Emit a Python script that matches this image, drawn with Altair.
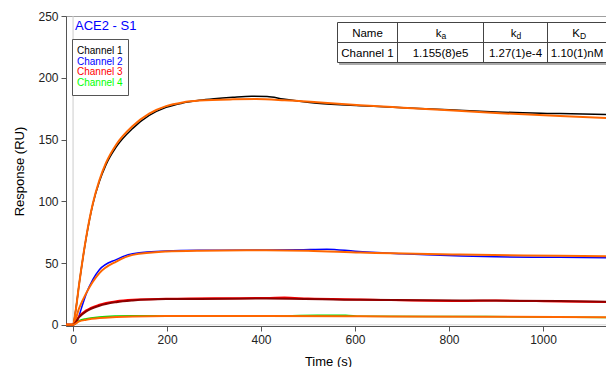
import altair as alt
import pandas as pd

FONT = "Liberation Sans"

# ---------------- data ----------------
# Channel 1 measured (black)
t_ch1 = [-15, 0, 5, 13, 28, 42, 56, 70, 92, 127, 162, 198, 233, 269, 300, 340, 380, 413, 447, 519, 611, 660, 800, 900, 1036, 1151]
v_ch1 = [0, 0, 10, 33, 70.5, 97.5, 116, 129.5, 144, 159, 169.5, 176, 179.5, 181.7, 183, 184.2, 185, 184.8, 182.8, 179.4, 177.4, 176.6, 174, 172.3, 171, 170]
# Channel 1 fit (orange)
t_fit1 = [-15, 0, 5, 13, 28, 42, 56, 70, 92, 127, 162, 198, 233, 269, 340, 390, 450, 519, 611, 700, 800, 900, 1036, 1151]
v_fit1 = [0, 0, 10, 33, 71, 98, 117, 131, 146, 161, 171, 177, 180, 181.5, 182.5, 182.7, 181.8, 180.2, 177.8, 175.8, 173.6, 171.5, 169, 167.2]
# Channel 2 measured (blue)
t_ch2 = [-15, 0, 8, 20, 28, 42, 56, 92, 127, 198, 269, 411, 480, 540, 600, 700, 752, 900, 1036, 1151]
v_ch2 = [0, 0, 2.7, 16, 25, 36.5, 44.5, 52.8, 57.6, 59.8, 60.3, 60.5, 60.7, 61.2, 59.5, 57.5, 56.6, 55, 54.6, 54.2]
# Channel 2 fit (orange)
t_fit2 = [-15, 0, 13, 28, 56, 92, 127, 198, 269, 411, 500, 611, 823, 1036, 1151]
v_fit2 = [0, 0, 13.5, 25.6, 41.8, 51.2, 56.6, 59.3, 60, 60.4, 60, 58.5, 56.9, 55.8, 55.3]
# Channel 3 measured (red)
t_ch3 = [-15, 0, 13, 28, 56, 92, 127, 198, 300, 411, 450, 500, 611, 823, 900, 1036, 1151]
v_ch3 = [0, 0, 6.8, 11.6, 16.2, 19, 20.2, 21, 21.5, 21.6, 22, 21.2, 20.5, 19.3, 19.6, 18.8, 18.3]
# Channel 3 fit (dark red)
t_fit3 = [-15, 0, 13, 28, 56, 92, 127, 198, 269, 411, 611, 823, 1036, 1151]
v_fit3 = [0, 0, 6.2, 10.8, 15.4, 18.3, 19.7, 20.8, 20.9, 21.3, 20.2, 19.7, 19.2, 18.6]
# Channel 4 measured (green)
t_ch4 = [-15, 0, 13, 28, 56, 92, 127, 149, 198, 411, 520, 580, 611, 880, 1151]
v_ch4 = [0, 0, 3.3, 4.9, 6.3, 7.1, 7.4, 7.4, 7.1, 7.0, 7.8, 7.8, 6.9, 6.6, 5.9]
# Channel 4 fit (orange)
t_fit4 = [-15, 0, 13, 28, 56, 92, 127, 198, 411, 611, 880, 1151]
v_fit4 = [0, 0, 2.7, 4.0, 5.4, 6.2, 6.7, 7.0, 7.0, 6.8, 6.5, 6.0]

x_ticks = [0, 200, 400, 600, 800, 1000]
y_ticks = [0, 50, 100, 150, 200, 250]

legend_labels = ["Channel 1", "Channel 2", "Channel 3", "Channel 4"]
legend_colors = ["#000000", "#0000ff", "#ff0000", "#00ff00"]

table_head = ["Name", "k", "k", "K"]
table_sub = ["", "a", "d", "D"]
table_row = ["Channel 1", "1.155(8)e5", "1.27(1)e-4", "1.10(1)nM"]

chart_title = "ACE2 - S1"

# ---------------- scales / axes ----------------
xscale = alt.Scale(domain=[-15, 1134], nice=False, zero=False)
yscale = alt.Scale(domain=[-1, 250], nice=False, zero=False)
xaxis = alt.Axis(values=x_ticks, format="d", grid=False, title="Time (s)", tickSize=5, labelPadding=3,
                 titleX=262, titleY=35, titleBaseline="middle", titleAlign="center")
yaxis = alt.Axis(values=y_ticks, format="d", grid=False, title="Response (RU)", tickSize=5, labelPadding=3,
                 titleX=-47, titleY=155, titleBaseline="middle", titleAlign="center", titleAngle=270)


def line_layer(t, v, color, width):
    df = pd.DataFrame({"t": t, "v": v})
    return alt.Chart(df).mark_line(color=color, strokeWidth=width, interpolate="monotone", clip=True).encode(
        x=alt.X("t:Q", scale=xscale, axis=xaxis),
        y=alt.Y("v:Q", scale=yscale, axis=yaxis),
    )


def text(s, x, y, color="#000000", size=11, align="left"):
    return alt.Chart(pd.DataFrame({"s": [s]})).mark_text(
        align=align, baseline="alphabetic", fontSize=size, font=FONT, color=color
    ).encode(x=alt.value(x), y=alt.value(y), text="s:N")


def box(x1, x2, y1, y2, stroke, fill, sw=1):
    return alt.Chart(pd.DataFrame({"a": [0]})).mark_rect(fill=fill, stroke=stroke, strokeWidth=sw).encode(
        x=alt.value(x1), x2=alt.value(x2), y=alt.value(y1), y2=alt.value(y2))


def seg(x1, x2, y1, y2, color="#444444"):
    return alt.Chart(pd.DataFrame({"a": [0]})).mark_rule(color=color, strokeWidth=1).encode(
        x=alt.value(x1), x2=alt.value(x2), y=alt.value(y1), y2=alt.value(y2))


ORANGE = "#ff6600"
layers = []
# zero lines
layers.append(alt.Chart(pd.DataFrame({"t": [0]})).mark_rule(color="#cccccc", strokeWidth=1).encode(
    x=alt.X("t:Q", scale=xscale, axis=xaxis)))
layers.append(alt.Chart(pd.DataFrame({"v": [0]})).mark_rule(color="#d8d8d8", strokeWidth=1).encode(
    y=alt.Y("v:Q", scale=yscale, axis=yaxis)))
# measured data
layers.append(line_layer(t_ch1, v_ch1, "#000000", 1.5))
layers.append(line_layer(t_ch2, v_ch2, "#0000ff", 1.5))
layers.append(line_layer(t_ch3, v_ch3, "#ff0000", 2))
layers.append(line_layer(t_ch4, v_ch4, "#00e000", 1.5))
# fits
layers.append(line_layer(t_fit1, v_fit1, ORANGE, 2))
layers.append(line_layer(t_fit2, v_fit2, ORANGE, 2))
layers.append(line_layer(t_fit3, v_fit3, "#8b0000", 2))
layers.append(line_layer(t_fit4, v_fit4, ORANGE, 2))

# title
layers.append(text(chart_title, 9, 14, color="#0000ff", size=13))

# legend box
layers.append(box(6.5, 62.5, 23.5, 79.5, "#555555", "#ffffff"))
for i, (lab, col) in enumerate(zip(legend_labels, legend_colors)):
    layers.append(text(lab, 11, 38 + i * 10.7, color=col, size=10))

# table
cols = [271.5, 331.5, 417.5, 481.5, 566.5]
top, mid, bot = 6.5, 26.5, 46.5
layers.append(box(cols[0] + 2, cols[-1] + 2, top + 2, bot + 2, "#aaaaaa", "#aaaaaa"))
layers.append(box(cols[0], cols[-1], top, bot, "#444444", "#ffffff"))
layers.append(seg(cols[0], cols[-1], mid, mid))
for c in cols[1:-1]:
    layers.append(seg(c, c, top, bot))
centers = [(cols[i] + cols[i + 1]) / 2 for i in range(4)]
centers[3] = 513
for i in range(4):
    head, sub = table_head[i], table_sub[i]
    if sub:
        layers.append(text(head, centers[i] + 1, 20.5, size=11.5, align="right"))
        layers.append(text(sub, centers[i] + 1, 23, size=8.5, align="left"))
    else:
        layers.append(text(head, centers[i], 20.5, size=11.5, align="center"))
row_centers = [centers[0], centers[1], centers[2], 511]
for i in range(4):
    layers.append(text(table_row[i], row_centers[i], 40.5, size=11.5, align="center"))

chart = alt.layer(*layers).properties(
    width=540, height=310,
    autosize=alt.AutoSizeParams(type="none"),
    padding={"left": 58, "top": 8, "right": 0, "bottom": 41},
).configure_view(stroke="#a0a0a0", strokeWidth=1).configure_axis(
    labelFont=FONT, titleFont=FONT, labelFontSize=12, titleFontSize=13,
    labelColor="#222222", titleColor="#000000", titleFontWeight="normal",
    domainColor="#555555", tickColor="#555555",
)

chart.save("out.html", embed_options={"renderer": "svg", "actions": False})
